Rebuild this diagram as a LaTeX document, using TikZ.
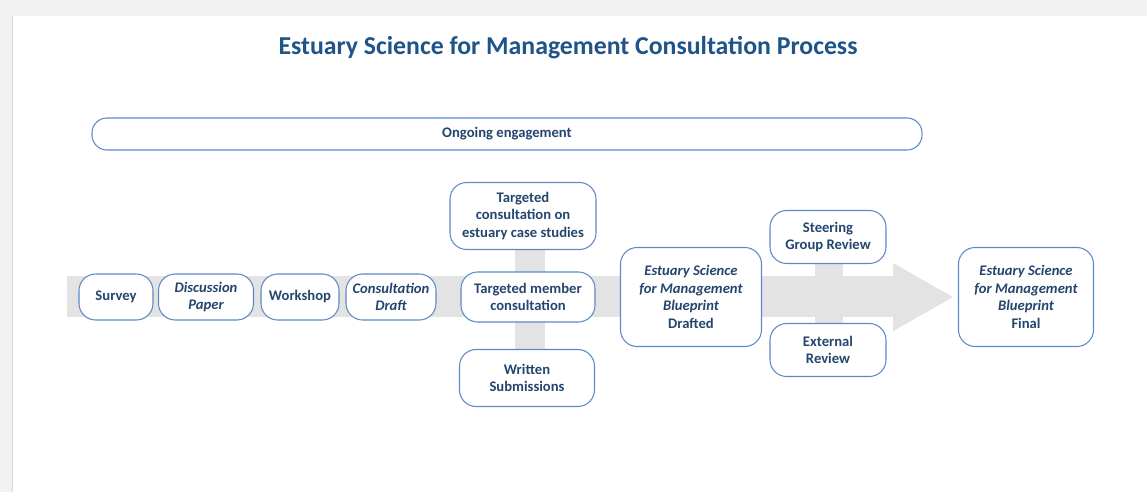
\documentclass[tikz,border=0pt]{standalone}
\usepackage{fontspec}
\setmainfont{Carlito}
\usetikzlibrary{positioning}
\definecolor{titleblue}{HTML}{1F5489}
\definecolor{textblue}{HTML}{24466E}
\definecolor{edgeblue}{HTML}{5B8AC6}
\definecolor{bandgrey}{HTML}{E3E3E3}
\definecolor{framegrey}{HTML}{F2F2F2}
\tikzset{
  stage/.style={draw=edgeblue, line width=0.9pt, fill=white, rounded corners=0.5cm,
    align=center, text=textblue, inner sep=2pt,
    font=\bfseries\fontsize{12.5}{15}\selectfont},
  small/.style={minimum width=#1, minimum height=1.38cm},
}
\begin{document}
\begin{tikzpicture}[x=0.03cm, y=-0.03cm]
            \useasboundingbox (0, 0) rectangle (1147, 492);
            \fill[framegrey] (0, 0) rectangle (1147, 492);
            \fill[white] (12, 16) rectangle (1147, 492);
            \draw[gray!30, line width=0.6pt] (12, 16) -- (12, 492);

            \node[text=titleblue, font=\bfseries\fontsize{22}{26}\selectfont] (title) at (568, 48) {Estuary Science for Management Consultation Process};
            \node[stage, rounded corners=0.45cm, minimum width=24.9cm, minimum height=0.96cm] (OE) at (507, 134) {Ongoing engagement};

            % grey process arrow
            \fill[bandgrey] (67, 276) rectangle (895, 317);
            \fill[bandgrey] (893, 263) -- (953, 297) -- (893, 331) -- cycle;
            \fill[bandgrey] (515, 245) rectangle (545, 352);
            \fill[bandgrey] (815, 262) rectangle (843, 326);

            \node[stage, small=2.22cm] (SU) at (116, 297) {Survey};
            \node[stage, small=2.85cm] (DP) at (206, 297) {\itshape Discussion\\\itshape Paper};
            \node[stage, small=2.34cm] (WS) at (300, 297) {Workshop};
            \node[stage, small=2.7cm] (CD) at (391, 297) {\itshape Consultation\\\itshape Draft};

            \node[stage, minimum width=4.38cm, minimum height=2.01cm] (TC) at (523, 216) {Targeted\\consultation on\\estuary case studies};
            \node[stage, minimum width=4.02cm, minimum height=1.5cm] (TM) at (528, 297) {Targeted member\\consultation};
            \node[stage, minimum width=4.05cm, minimum height=1.71cm] (WR) at (527, 378) {Written\\Submissions};

            \node[stage, minimum width=4.23cm, minimum height=2.97cm] (BD) at (691, 297) {\itshape Estuary Science\\\itshape for Management\\\itshape Blueprint\\Drafted};

            \node[stage, minimum width=3.48cm, minimum height=1.59cm] (SG) at (828, 237) {Steering\\Group Review};
            \node[stage, minimum width=3.48cm, minimum height=1.59cm] (ER) at (828, 350) {External\\Review};

            \node[stage, minimum width=4.05cm, minimum height=2.97cm] (BF) at (1026, 297) {\itshape Estuary Science\\\itshape for Management\\\itshape Blueprint\\Final};
        \end{tikzpicture}
\end{document}
